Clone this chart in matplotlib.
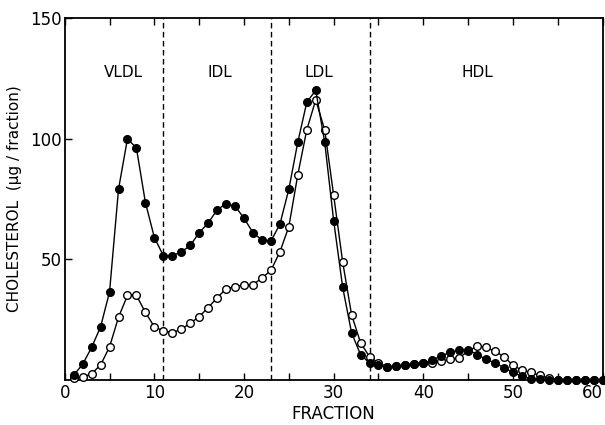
import numpy as np
import matplotlib
matplotlib.use("Agg")
import matplotlib.pyplot as plt

fraction = np.arange(1, 61)

filled = [2, 6.5, 13.5, 22, 36.5, 79, 100, 96, 73.5, 59,
          51.5, 51.5, 53, 55.7, 61, 65, 70.5, 73, 72, 67,
          61, 58, 57.5, 64.5, 79, 98.5, 115, 120, 98.5, 66,
          38.5, 19.5, 10.5, 7, 6, 5.3, 5.6, 6, 6.5, 7,
          8.2, 10, 11.4, 12.4, 12.6, 10.5, 8.6, 7, 5.1, 3.1,
          1.5, 0.6, 0.2, 0, 0, 0, 0, 0, 0, 0]

open_ = [0.8, 1.2, 2.6, 6.2, 13.7, 26, 35, 35, 28, 22,
         20.3, 19.6, 21, 23.5, 26.2, 30, 34, 37.8, 38.7, 39.4,
         39.5, 42.2, 45.4, 53, 63.5, 85, 103.6, 116, 103.6, 76.5,
         49, 27, 15.4, 9.6, 7.1, 5.4, 5.7, 6.1, 6.8, 7.1,
         7.0, 7.8, 8.6, 9.2, 11.9, 14, 13.5, 11.9, 9.6, 6.1,
         4, 3.1, 1.9, 0.8, 0, 0, 0, 0, 0, 0]

boundaries = [11, 23, 34]
regions = ["VLDL", "IDL", "LDL", "HDL"]
region_x = [6.5, 17.3, 28.4, 46]

fig = plt.figure(figsize=(6.05, 4.25), dpi=100)
ax = fig.add_axes([0.107, 0.106, 0.889, 0.852])

for b in boundaries:
    ax.axvline(b, color="black", lw=1, ls=(0, (4, 2.5)))

ax.plot(fraction, open_, "-o", color="black", lw=1, ms=5.5,
        mfc="white", mec="black", mew=1, clip_on=False, zorder=3)
ax.plot(fraction, filled, "-o", color="black", lw=1, ms=5.5,
        mfc="black", mec="black", clip_on=False, zorder=4)

for name, x in zip(regions, region_x):
    ax.text(x, 127.5, name, ha="center", va="center", fontsize=11)

ax.set_xlim(0, 60)
ax.set_ylim(0, 150)
ax.set_xticks(range(0, 61, 10))
ax.set_xticks(range(5, 60, 10), minor=True)
ax.set_yticks([50, 100, 150])
ax.tick_params(direction="in", top=True, labelsize=12, length=5, width=1)
ax.tick_params(which="minor", direction="in", top=True, length=5, width=1)
ax.tick_params(axis="y", pad=2)
ax.tick_params(axis="x", pad=3)

# last tick label sits at the right edge of the figure
ax.get_xticklabels()[-1].set_horizontalalignment("right")

for s in ax.spines.values():
    s.set_linewidth(1.3)

ax.set_xlabel("FRACTION", fontsize=12, labelpad=2)
ax.set_ylabel("CHOLESTEROL  (µg / fraction)", fontsize=11, labelpad=6)

fig.savefig("out.png", dpi=100)
